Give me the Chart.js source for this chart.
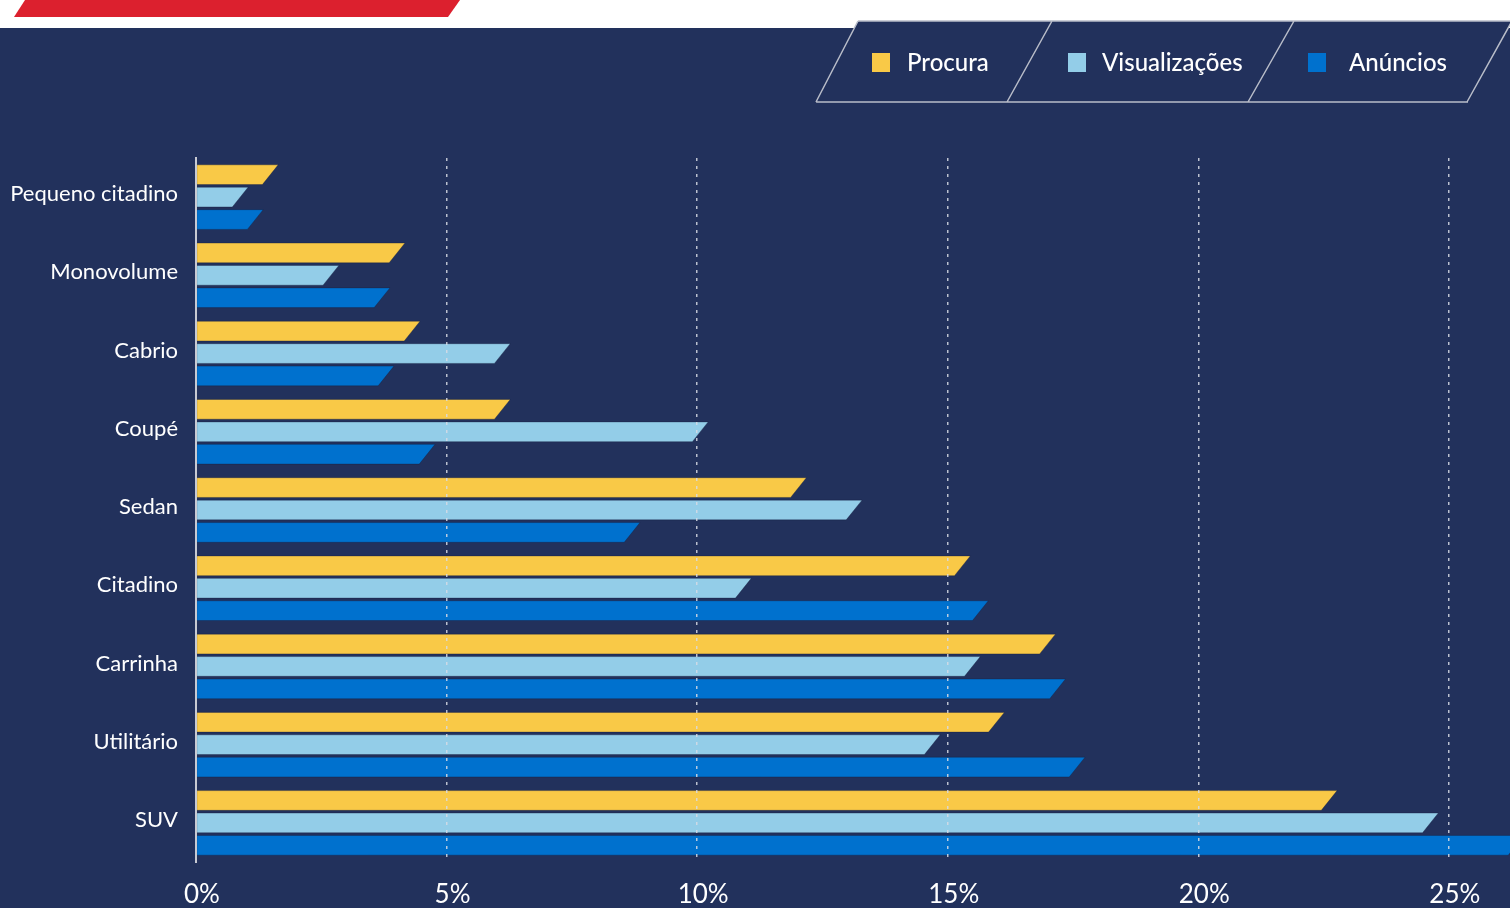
<!DOCTYPE html>
<html>
<head>
<meta charset="utf-8">
<script src="https://cdn.jsdelivr.net/npm/chart.js@4"></script>
<style>
  html, body { margin: 0; padding: 0; background: #22315c; }
  #wrap { width: 1510px; height: 908px; }
</style>
</head>
<body>
<div id="wrap"><canvas id="segmentos" width="1510" height="908"></canvas></div>
<script>
// datos del gráfico (% por segmento)
var categorias = ['Pequeno citadino', 'Monovolume', 'Cabrio', 'Coupé', 'Sedan', 'Citadino', 'Carrinha', 'Utilitário', 'SUV'];
var series = ['Procura', 'Visualizações', 'Anúncios'];
var procura = [1.64, 4.17, 4.47, 6.27, 12.18, 15.45, 17.15, 16.13, 22.77];
var visualizacoes = [1.04, 2.85, 6.27, 10.22, 13.29, 11.08, 15.65, 14.85, 24.79];
var anuncios = [1.34, 3.87, 3.95, 4.77, 8.86, 15.81, 17.35, 17.74, 26.5];
var ticksX = [0, 5, 10, 15, 20, 25];
var colores = ['#f9c947', '#93cde8', '#0071ce'];

var fuente = "Lato, 'Noto Sans', sans-serif";

// barras con el extremo derecho inclinado
Chart.BarElement.prototype.draw = function(ctx) {
    var p = this.getProps(['x', 'y', 'base', 'height']);
    var top = p.y - p.height / 2, bot = p.y + p.height / 2;
    var slant = p.height * 0.8;
    ctx.save();
    ctx.fillStyle = this.options.backgroundColor;
    ctx.strokeStyle = 'rgba(20, 30, 60, 0.35)';
    ctx.lineWidth = 1;
    ctx.beginPath();
    ctx.moveTo(p.base, top);
    ctx.lineTo(p.x, top);
    ctx.lineTo(p.x - slant, bot);
    ctx.lineTo(p.base, bot);
    ctx.closePath();
    ctx.fill();
    ctx.stroke();
    ctx.restore();
};

// fondo, franja roja y leyenda en paralelogramos
var fondo = {
    id: 'fondo',
    beforeDraw: function(chart) {
        var ctx = chart.ctx;
        ctx.save();
        ctx.fillStyle = '#22315c';
        ctx.fillRect(0, 0, chart.width, chart.height);
        ctx.fillStyle = '#ffffff';
        ctx.fillRect(0, 0, chart.width, 28);
        ctx.fillStyle = '#dc202e';
        ctx.beginPath();
        ctx.moveTo(25, 0); ctx.lineTo(460, 0); ctx.lineTo(448, 17); ctx.lineTo(14, 17);
        ctx.closePath(); ctx.fill();

        // leyenda
        ctx.fillStyle = '#22315c';
        ctx.beginPath();
        ctx.moveTo(858, 21); ctx.lineTo(1512, 21); ctx.lineTo(1468, 102); ctx.lineTo(816, 102);
        ctx.closePath(); ctx.fill();
        ctx.strokeStyle = '#b9bdc9';
        ctx.lineWidth = 1.5;
        ctx.beginPath();
        ctx.moveTo(858, 21); ctx.lineTo(1512, 21);
        ctx.moveTo(816, 102); ctx.lineTo(1468, 102);
        [[858, 816], [1052, 1007], [1294, 1248], [1512, 1467]].forEach(function(s) {
            ctx.moveTo(s[0], 21); ctx.lineTo(s[1], 102);
        });
        ctx.stroke();

        var cajas = [872, 1068, 1308];
        var textos = [907, 1102, 1349];
        ctx.font = '500 24px ' + fuente;
        ctx.textBaseline = 'middle';
        chart.data.datasets.forEach(function(ds, i) {
            ctx.fillStyle = ds.backgroundColor;
            ctx.fillRect(cajas[i], 53, 18, 19);
            ctx.fillStyle = '#ffffff';
            ctx.fillText(ds.label, textos[i], 63);
        });
        ctx.restore();
    }
};

var ctx = document.getElementById('segmentos').getContext('2d');
var chartSegmentos = new Chart(ctx, {
    type: 'bar',
    data: {
        labels: categorias,
        datasets: [
            { label: series[0], data: procura, backgroundColor: colores[0] },
            { label: series[1], data: visualizacoes, backgroundColor: colores[1] },
            { label: series[2], data: anuncios, backgroundColor: colores[2] }
        ]
    },
    options: {
        indexAxis: 'y',
        responsive: false,
        animation: false,
        devicePixelRatio: 1,
        categoryPercentage: 0.86,
        barPercentage: 0.88,
        layout: { padding: { top: 158, right: 0, left: 0, bottom: 0 } },
        plugins: {
            legend: { display: false },
            tooltip: { enabled: false }
        },
        scales: {
            x: {
                min: 0,
                max: 26.22,
                afterFit: function(scale) { scale.height = 46; },
                afterBuildTicks: function(scale) {
                    scale.ticks = ticksX.map(function(v) { return { value: v }; });
                },
                ticks: {
                    color: '#ffffff',
                    font: { family: fuente, size: 26 },
                    padding: 17,
                    labelOffset: 6,
                    maxRotation: 0,
                    callback: function(v) { return v + '%'; }
                },
                grid: {
                    drawTicks: false,
                    z: 1,
                    lineWidth: 1.5,
                    color: function(c) {
                        return c.tick && c.tick.value === 0 ? 'rgba(0,0,0,0)' : 'rgba(215, 218, 228, 0.85)';
                    }
                },
                border: { display: false, dash: [3, 5] }
            },
            y: {
                afterFit: function(scale) { scale.width = 196; },
                ticks: {
                    color: '#ffffff',
                    font: { family: fuente, size: 22 },
                    padding: 18,
                    labelOffset: -3
                },
                grid: { display: false, drawTicks: false },
                border: { display: true, color: '#c8cad2', width: 2, z: 1 }
            }
        }
    },
    plugins: [fondo]
});
</script>
</body>
</html>
